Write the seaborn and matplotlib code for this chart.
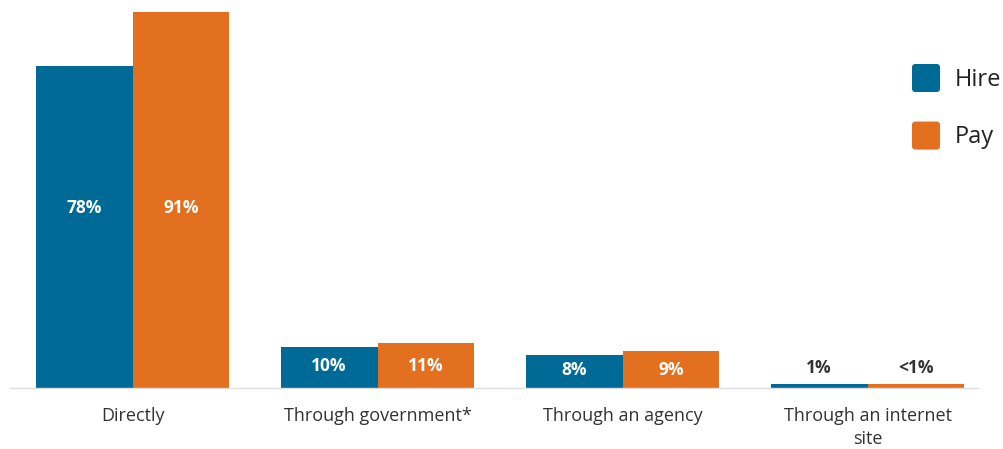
import matplotlib
matplotlib.use("Agg")
import matplotlib.pyplot as plt
from matplotlib.patches import FancyBboxPatch
from matplotlib.legend_handler import HandlerPatch
import seaborn as sns
import pandas as pd

categories = ["Directly", "Through government*", "Through an agency", "Through an internet\nsite"]
series = ["Hire", "Pay"]
hire_values = [78, 10, 8, 1]
pay_values = [91, 11, 9, 1]
hire_labels = ["78%", "10%", "8%", "1%"]
pay_labels = ["91%", "11%", "9%", "<1%"]

colors = {"Hire": "#006A96", "Pay": "#E3701E"}
text_color = "#333333"

sns.set_theme(style="white")
plt.rcParams["font.family"] = ["Open Sans", "DejaVu Sans"]

df = pd.DataFrame({
    "category": categories * 2,
    "series": ["Hire"] * len(categories) + ["Pay"] * len(categories),
    "value": hire_values + pay_values,
    "label": hire_labels + pay_labels,
})

fig = plt.figure(figsize=(10.04, 4.49), dpi=100)
ax = fig.add_axes([0.01, 0.136, 0.964, 0.864])

sns.barplot(data=df, x="category", y="value", hue="series", order=categories,
            hue_order=series, palette=colors, width=0.79, saturation=1,
            edgecolor="none", linewidth=0, legend=False, ax=ax)

ax.set_xlim(-0.5, 3.45)
ax.set_ylim(0, 94)
ax.set_xlabel("")
ax.set_ylabel("")
ax.set_yticks([])
for side in ["left", "right", "top"]:
    ax.spines[side].set_visible(False)
ax.spines["bottom"].set_color("#dddddd")
ax.spines["bottom"].set_linewidth(1)
ax.tick_params(axis="x", length=0, pad=14, labelsize=13, colors=text_color)
for t in ax.get_xticklabels():
    t.set_linespacing(1.3)

# value labels: inside the bars for tall groups, above the bars for the tiny one
bar_w = 0.79 / 2
for i, cat in enumerate(categories):
    h, p = hire_values[i], pay_values[i]
    small = max(h, p) < 3
    if small:
        y = max(h, p) + 3.8
        col = text_color
    else:
        y = (h / 2 + p / 2) / 2 * 1.03
        col = "white"
    for j, (val, lab) in enumerate([(h, hire_labels[i]), (p, pay_labels[i])]):
        x = i + (j - 0.5) * bar_w
        ax.text(x, y, lab, ha="center", va="center", fontsize=12.5,
                fontweight="bold", color=col)


class RoundSquare(HandlerPatch):
    def create_artists(self, legend, orig_handle, xdescent, ydescent,
                       width, height, fontsize, trans):
        s = min(width, height)
        p = FancyBboxPatch((-xdescent, -ydescent + (height - s) / 2), s, s,
                           boxstyle="round,pad=0,rounding_size=2.5",
                           facecolor=orig_handle.get_facecolor(),
                           edgecolor="none", transform=trans)
        return [p]


handles = [plt.Rectangle((0, 0), 1, 1, facecolor=colors[s]) for s in series]
leg = fig.legend(handles, series, loc="upper left",
                 bbox_to_anchor=(912 / 1004, 1 - 64 / 449),
                 frameon=False, fontsize=17, handlelength=1.45,
                 handleheight=1.45, handletextpad=0.35, labelspacing=1.25,
                 borderaxespad=0, borderpad=0,
                 handler_map={plt.Rectangle: RoundSquare()})
for t in leg.get_texts():
    t.set_color("#222222")

fig.savefig("out.png", dpi=100, facecolor="white")
